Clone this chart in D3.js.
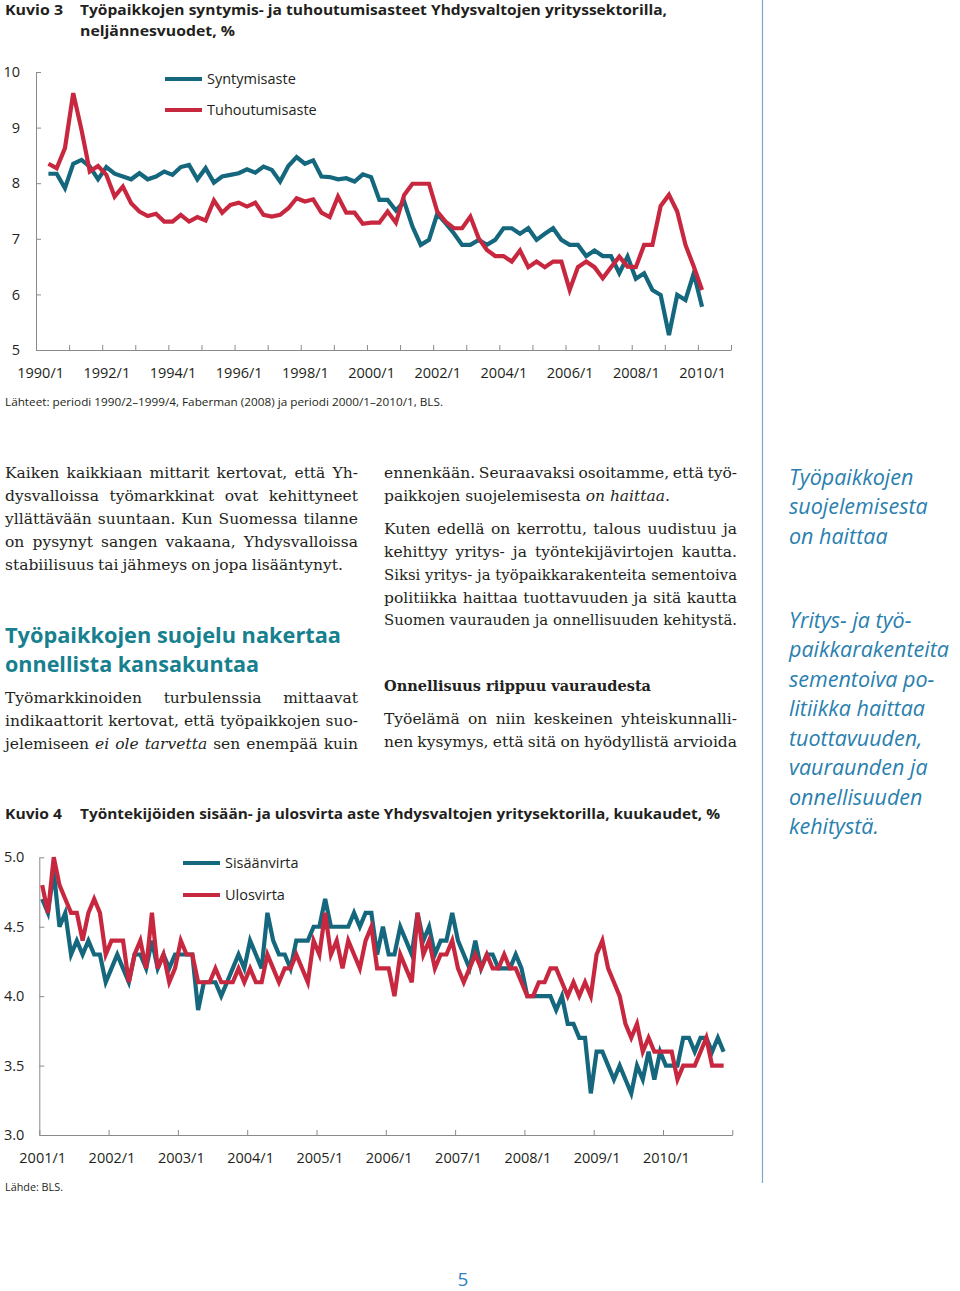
<!DOCTYPE html>
<html><head><meta charset="utf-8">
<script src="https://cdn.jsdelivr.net/npm/d3@7"></script>
<style>body{margin:0;background:#fff} svg{display:block}</style>
</head><body>
<svg id="page" width="960" height="1291"></svg>
<script>
// ---------- DATA: Kuvio 3 (quarterly, 1990/2 – 2010/1) ----------
const q1Start = [1990, 2];
const births = [8.17, 8.17, 7.91, 8.35, 8.42, 8.30, 8.07, 8.29, 8.17, 8.12,
  8.07, 8.18, 8.07, 8.12, 8.21, 8.15, 8.29, 8.33, 8.07, 8.27,
  8.01, 8.12, 8.15, 8.18, 8.25, 8.19, 8.30, 8.24, 8.03, 8.31,
  8.47, 8.35, 8.41, 8.12, 8.11, 8.07, 8.09, 8.03, 8.16, 8.11,
  7.70, 7.70, 7.51, 7.67, 7.22, 6.89, 6.98, 7.45, 7.28, 7.10,
  6.89, 6.89, 6.98, 6.89, 6.98, 7.19, 7.19, 7.09, 7.19, 6.98,
  7.09, 7.19, 6.98, 6.89, 6.89, 6.69, 6.79, 6.69, 6.69, 6.38,
  6.68, 6.28, 6.38, 6.08, 5.99, 5.27, 5.99, 5.90, 6.38, 5.78];
const deaths = [8.35, 8.27, 8.63, 9.62, 8.96, 8.21, 8.31, 8.15, 7.76, 7.94,
  7.64, 7.49, 7.41, 7.45, 7.31, 7.31, 7.43, 7.31, 7.39, 7.33,
  7.69, 7.47, 7.61, 7.65, 7.58, 7.65, 7.43, 7.40, 7.43, 7.55,
  7.73, 7.67, 7.71, 7.47, 7.39, 7.76, 7.47, 7.47, 7.27, 7.29,
  7.29, 7.49, 7.29, 7.79, 7.99, 7.99, 7.99, 7.49, 7.31, 7.19,
  7.19, 7.40, 7.01, 6.80, 6.69, 6.69, 6.59, 6.79, 6.49, 6.59,
  6.49, 6.59, 6.59, 6.08, 6.49, 6.59, 6.49, 6.29, 6.49, 6.68,
  6.50, 6.49, 6.89, 6.89, 7.59, 7.79, 7.49, 6.89, 6.50, 6.08];
const yTicks1 = [5, 6, 7, 8, 9, 10];
const xLabels1 = ["1990/1","1992/1","1994/1","1996/1","1998/1","2000/1","2002/1","2004/1","2006/1","2008/1","2010/1"];
const series1Names = ["Syntymisaste", "Tuhoutumisaste"];

// ---------- DATA: Kuvio 4 (monthly, 2001/1 – 2010/11) ----------
const m2Start = [2001, 1];
const inflow = [4.7, 4.6, 4.9, 4.5, 4.6, 4.3, 4.4, 4.3, 4.4, 4.3,
  4.3, 4.1, 4.2, 4.3, 4.2, 4.1, 4.3, 4.3, 4.2, 4.4,
  4.2, 4.3, 4.2, 4.3, 4.3, 4.3, 4.3, 3.9, 4.1, 4.1,
  4.1, 4.0, 4.1, 4.2, 4.3, 4.2, 4.4, 4.3, 4.2, 4.6,
  4.4, 4.3, 4.3, 4.2, 4.4, 4.4, 4.4, 4.5, 4.5, 4.7,
  4.5, 4.5, 4.5, 4.5, 4.6, 4.5, 4.6, 4.6, 4.3, 4.5,
  4.3, 4.3, 4.5, 4.4, 4.3, 4.6, 4.4, 4.5, 4.3, 4.4,
  4.4, 4.6, 4.4, 4.3, 4.2, 4.4, 4.2, 4.3, 4.3, 4.2,
  4.2, 4.2, 4.3, 4.2, 4.0, 4.0, 4.0, 4.0, 4.0, 3.9,
  4.0, 3.8, 3.8, 3.7, 3.7, 3.3, 3.6, 3.6, 3.5, 3.4,
  3.5, 3.4, 3.3, 3.5, 3.4, 3.6, 3.4, 3.6, 3.5, 3.5,
  3.5, 3.7, 3.7, 3.6, 3.7, 3.7, 3.6, 3.7, 3.6];
const outflow = [4.8, 4.6, 5.0, 4.8, 4.7, 4.6, 4.6, 4.4, 4.6, 4.7,
  4.6, 4.3, 4.4, 4.4, 4.4, 4.1, 4.3, 4.4, 4.2, 4.6,
  4.2, 4.3, 4.1, 4.2, 4.4, 4.3, 4.3, 4.1, 4.1, 4.1,
  4.2, 4.1, 4.1, 4.1, 4.2, 4.1, 4.2, 4.1, 4.1, 4.3,
  4.2, 4.1, 4.2, 4.2, 4.3, 4.2, 4.1, 4.4, 4.3, 4.6,
  4.3, 4.4, 4.2, 4.4, 4.3, 4.2, 4.4, 4.5, 4.2, 4.2,
  4.2, 4.0, 4.3, 4.2, 4.1, 4.6, 4.3, 4.4, 4.2, 4.3,
  4.3, 4.4, 4.2, 4.1, 4.2, 4.3, 4.2, 4.3, 4.2, 4.2,
  4.3, 4.2, 4.2, 4.1, 4.0, 4.0, 4.1, 4.1, 4.2, 4.2,
  4.1, 4.0, 4.1, 4.0, 4.1, 4.0, 4.3, 4.4, 4.2, 4.1,
  4.0, 3.8, 3.7, 3.8, 3.6, 3.7, 3.6, 3.6, 3.6, 3.6,
  3.4, 3.5, 3.5, 3.5, 3.6, 3.7, 3.5, 3.5, 3.5];
const yTicks2 = [3.0, 3.5, 4.0, 4.5, 5.0];
const xLabels2 = ["2001/1","2002/1","2003/1","2004/1","2005/1","2006/1","2007/1","2008/1","2009/1","2010/1"];
const series2Names = ["Sisäänvirta", "Ulosvirta"];

// ---------- styles ----------
const TEAL = "#14677c", RED = "#c8283f", AXIS = "#8a8a8a", INK = "#231f20";
const HEAD = "#16808f", SIDE = "#2a7fae";
const SANS = "'Open Sans','Noto Sans',sans-serif";
const SERIF = "'DejaVu Serif','Liberation Serif',serif";

const svg = d3.select("#page");
svg.append("rect").attr("width",960).attr("height",1291).attr("fill","#fff");

// category helpers
const quarters = births.map((_, i) => { const k = q1Start[1] - 1 + i; return {year: q1Start[0] + Math.floor(k/4), q: k % 4 + 1}; });
const months = inflow.map((_, i) => { const k = m2Start[1] - 1 + i; return {year: m2Start[0] + Math.floor(k/12), m: k % 12 + 1}; });

function fitWidth(t, target, mode, multi) {
  const node = t.node();
  const L = node.getComputedTextLength();
  const n = (node.textContent.match(/ /g) || []).length;
  if (mode === "justify" && n > 0) {
    const ws = (target - L) / n;
    if (ws > -1.2 || multi) { t.attr("word-spacing", Math.max(ws, -2).toFixed(2)); return; }
  }
  t.attr("textLength", target).attr("lengthAdjust", "spacingAndGlyphs");
}
function addLine(x, y, segs, o) {
  const t = svg.append("text").attr("x", x).attr("y", y)
    .attr("font-family", o.family).attr("font-size", o.size).attr("fill", o.fill || INK)
    .attr("font-weight", o.weight || "normal");
  if (o.italic) t.attr("font-style", "italic");
  if (segs.length === 1) t.text(segs[0][0]);
  else segs.forEach(s => { const sp = t.append("tspan").text(s[0]); if (s[1]) sp.attr("font-style", "italic"); });
  if (o.width) fitWidth(t, o.width, o.mode, segs.length > 1);
  return t;
}

// ---------- vertical rule ----------
svg.append("line").attr("x1", 762.5).attr("x2", 762.5).attr("y1", 0).attr("y2", 1183)
  .attr("stroke", "#7ea6d3").attr("stroke-width", 1.2);

// ---------- Kuvio 3 ----------
addLine(5, 15, [["Kuvio 3"]], {family: SANS, size: 15, weight: "bold", width: 58});
addLine(80, 15, [["Työpaikkojen syntymis- ja tuhoutumisasteet Yhdysvaltojen yrityssektorilla,"]], {family: SANS, size: 15, weight: "bold", width: 587});
addLine(80, 36, [["neljännesvuodet, %"]], {family: SANS, size: 15, weight: "bold", width: 155});

const x1 = d3.scaleLinear().domain([1990, 2011]).range([36, 731]);
const y1 = d3.scaleLinear().domain([5, 10]).range([350, 72]);
const qx = d => x1(d.year + (d.q - 0.5) / 4);

function styleAxis(g) {
  g.selectAll("path.domain").attr("stroke", AXIS).attr("stroke-width", 1);
  g.selectAll(".tick line").attr("stroke", AXIS).attr("stroke-width", 1);
  g.selectAll("text").attr("font-family", SANS).attr("font-size", 14.5).attr("fill", INK);
}
const g1 = svg.append("g");
g1.append("g").attr("transform", "translate(0,350)")
  .call(d3.axisBottom(x1).tickValues(d3.range(1990, 2012)).tickSizeInner(-5).tickSizeOuter(0).tickFormat(""))
  .call(styleAxis);
g1.append("g").attr("transform", "translate(0,350)")
  .call(d3.axisBottom(x1).tickValues(xLabels1.map(s => +s.split("/")[0] + 0.125)).tickSize(0).tickPadding(18)
    .tickFormat((d, i) => xLabels1[i]))
  .call(g => g.select(".domain").remove()).call(styleAxis);
g1.append("g").attr("transform", "translate(36,0)")
  .call(d3.axisLeft(y1).tickValues(yTicks1).tickSizeInner(-5).tickSizeOuter(0).tickPadding(16).tickFormat(d3.format("d")))
  .call(styleAxis);

const line1 = vals => d3.line().x((d, i) => qx(quarters[i])).y(d => y1(d))(vals);
g1.append("path").attr("d", line1(births)).attr("fill", "none").attr("stroke", TEAL).attr("stroke-width", 4.2);
g1.append("path").attr("d", line1(deaths)).attr("fill", "none").attr("stroke", RED).attr("stroke-width", 4.2);

[[series1Names[0], TEAL, 79], [series1Names[1], RED, 110]].forEach(([name, c, y]) => {
  g1.append("line").attr("x1", 165).attr("x2", 202).attr("y1", y).attr("y2", y).attr("stroke", c).attr("stroke-width", 4.2);
  g1.append("text").attr("x", 207).attr("y", y + 5).text(name).attr("font-family", SANS).attr("font-size", 14.5).attr("fill", INK);
});
addLine(5, 406, [["Lähteet: periodi 1990/2–1999/4, Faberman (2008) ja periodi 2000/1–2010/1, BLS."]], {family: SANS, size: 11, width: 438});

// ---------- Body text ----------
const B = {family: SERIF, size: 15.5, mode: "justify"};
const leftCol = [
  [478, [["Kaiken kaikkiaan mittarit kertovat, että Yh-"]], 353],
  [501, [["dysvalloissa työmarkkinat ovat kehittyneet"]], 353],
  [524, [["yllättävään suuntaan. Kun Suomessa tilanne"]], 353],
  [547, [["on pysynyt sangen vakaana, Yhdysvalloissa"]], 353],
  [570, [["stabiilisuus tai jähmeys on jopa lisääntynyt."]], 338],
  [703, [["Työmarkkinoiden turbulenssia mittaavat"]], 353],
  [726, [["indikaattorit kertovat, että työpaikkojen suo-"]], 353],
  [749, [["jelemiseen "], ["ei ole tarvetta", true], [" sen enempää kuin"]], 353]
];
leftCol.forEach(([y, segs, w]) => addLine(5, y, segs, Object.assign({}, B, {width: w})));
addLine(5, 643, [["Työpaikkojen suojelu nakertaa"]], {family: SANS, size: 22, weight: "bold", fill: HEAD, width: 336});
addLine(5, 672, [["onnellista kansakuntaa"]], {family: SANS, size: 22, weight: "bold", fill: HEAD, width: 254});

const rightCol = [
  [478, [["ennenkään. Seuraavaksi osoitamme, että työ-"]], 353],
  [501, [["paikkojen suojelemisesta "], ["on haittaa.", true]], null],
  [534, [["Kuten edellä on kerrottu, talous uudistuu ja"]], 353],
  [557, [["kehittyy yritys- ja työntekijävirtojen kautta."]], 353],
  [580, [["Siksi yritys- ja työpaikkarakenteita sementoiva"]], 353],
  [603, [["politiikka haittaa tuottavuuden ja sitä kautta"]], 353],
  [625, [["Suomen vaurauden ja onnellisuuden kehitystä."]], 353],
  [724, [["Työelämä on niin keskeinen yhteiskunnalli-"]], 353],
  [747, [["nen kysymys, että sitä on hyödyllistä arvioida"]], 353]
];
rightCol.forEach(([y, segs, w]) => addLine(384, y, segs, Object.assign({}, B, {width: w})));
addLine(384, 691, [["Onnellisuus riippuu vauraudesta"]], {family: SERIF, size: 15.5, weight: "bold", width: 267});

// ---------- Sidebar ----------
const side = [
  [485, "Työpaikkojen"], [514, "suojelemisesta"], [544, "on haittaa"],
  [628, "Yritys- ja työ-"], [657, "paikkarakenteita"], [687, "sementoiva po-"],
  [716, "litiikka haittaa"], [746, "tuottavuuden,"], [775, "vauraunden ja"],
  [805, "onnellisuuden"], [834, "kehitystä."]
];
side.forEach(([y, s]) => addLine(789, y, [[s]], {family: SANS, size: 21.5, italic: true, fill: SIDE}));

// ---------- Kuvio 4 ----------
addLine(5, 819, [["Kuvio 4"]], {family: SANS, size: 15, weight: "bold", width: 57});
addLine(80, 819, [["Työntekijöiden sisään- ja ulosvirta aste Yhdysvaltojen yritysektorilla, kuukaudet, %"]], {family: SANS, size: 15, weight: "bold", width: 640});

const x2 = d3.scaleLinear().domain([2001, 2011]).range([39.3, 732.3]);
const y2 = d3.scaleLinear().domain([3, 5]).range([1135, 857.3]);
const mx = d => x2(d.year + (d.m - 0.5) / 12);

const g2 = svg.append("g");
g2.append("g").attr("transform", "translate(0,1135)")
  .call(d3.axisBottom(x2).tickValues(d3.range(2001, 2012)).tickSizeInner(-5).tickSizeOuter(0).tickFormat(""))
  .call(styleAxis);
g2.append("g").attr("transform", "translate(0,1135)")
  .call(d3.axisBottom(x2).tickValues(xLabels2.map(s => +s.split("/")[0] + 0.5 / 12)).tickSize(0).tickPadding(18)
    .tickFormat((d, i) => xLabels2[i]))
  .call(g => g.select(".domain").remove()).call(styleAxis);
g2.append("g").attr("transform", "translate(39.3,0)")
  .call(d3.axisLeft(y2).tickValues(yTicks2).tickSizeInner(-5).tickSizeOuter(0).tickPadding(15).tickFormat(d3.format(".1f")))
  .call(styleAxis);

const line2 = vals => d3.line().x((d, i) => mx(months[i])).y(d => y2(d))(vals);
g2.append("path").attr("d", line2(inflow)).attr("fill", "none").attr("stroke", TEAL).attr("stroke-width", 4.2);
g2.append("path").attr("d", line2(outflow)).attr("fill", "none").attr("stroke", RED).attr("stroke-width", 4.2);

[[series2Names[0], TEAL, 863], [series2Names[1], RED, 895]].forEach(([name, c, y]) => {
  g2.append("line").attr("x1", 183).attr("x2", 220).attr("y1", y).attr("y2", y).attr("stroke", c).attr("stroke-width", 4.2);
  g2.append("text").attr("x", 225).attr("y", y + 5).text(name).attr("font-family", SANS).attr("font-size", 14.5).attr("fill", INK);
});
addLine(5, 1191, [["Lähde: BLS."]], {family: SANS, size: 11, width: 58});

// ---------- page number ----------
svg.append("text").attr("x", 463).attr("y", 1286).attr("text-anchor", "middle").text("5")
  .attr("font-family", SANS).attr("font-size", 19).attr("fill", "#2f7fbf");
</script>
</body></html>
